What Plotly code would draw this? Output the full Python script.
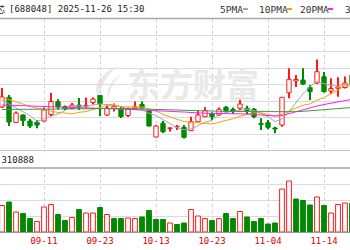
import plotly.graph_objects as go

# ---------------- data ----------------
dates = ["09-03","09-04","09-05","09-08","09-09","09-10","09-11","09-12","09-15","09-16",
         "09-17","09-18","09-19","09-22","09-23","09-24","09-25","09-26","09-29","09-30",
         "10-09","10-10","10-13","10-14","10-15","10-16","10-17","10-20","10-21","10-22",
         "10-23","10-24","10-27","10-28","10-29","10-30","10-31","11-03","11-04","11-05",
         "11-06","11-07","11-10","11-11","11-12","11-13","11-14","11-17","11-18","11-19","11-20"]

opens = [113.5,118.25,105.75,109.5,106.5,105.85,106.5,109.75,116.15,113.75,
         112.75,114.5,114.0,115.75,119.25,109.5,112.85,112.5,109.25,112.75,
         114.75,111.5,98.5,105.35,102.75,103.5,103.35,101.65,106.15,108.65,
         110.0,109.5,113.35,112.25,112.85,112.85,112.35,105.25,105.65,103.0,
         104.5,120.65,126.5,127.0,123.15,125.5,128.65,121.5,122.85,123.25,129.5]
closes = [118.5,106.0,110.5,106.75,104.0,104.5,112.0,116.25,113.5,112.75,
          114.5,113.75,114.25,117.5,115.0,113.0,113.85,108.75,112.25,113.5,
          113.0,104.0,104.0,101.15,103.1,103.75,98.35,106.15,109.5,111.65,
          108.65,112.35,111.65,111.5,115.0,111.65,108.65,104.75,103.35,102.5,
          118.35,127.35,127.25,125.0,121.25,131.15,121.15,122.75,123.5,125.5,124.5]
highs = [123.0,119.5,111.25,109.75,107.5,107.0,113.25,120.5,117.35,114.25,
         115.5,118.0,118.25,118.25,119.5,114.5,115.25,113.5,113.25,116.25,
         116.25,112.25,104.5,106.5,103.25,104.5,104.5,108.65,111.75,113.35,
         110.85,113.25,114.0,113.25,117.5,114.15,113.0,107.85,107.0,103.65,
         118.5,132.85,129.5,132.85,124.5,137.25,131.0,127.85,128.35,128.75,131.0]
lows = [113.0,104.0,105.5,104.0,103.0,102.85,106.25,109.0,112.25,112.0,
        112.5,112.0,112.85,114.75,109.0,109.0,111.25,108.0,108.5,112.0,
        112.75,103.75,98.25,100.5,101.25,102.0,97.75,101.5,106.0,108.5,
        107.0,109.0,110.5,110.0,112.0,110.0,107.85,102.0,102.35,100.35,
        103.65,117.85,123.5,124.5,117.0,125.0,120.75,120.0,118.65,122.75,123.0]

ma5 = [117.0,115.0,113.0,111.25,109.15,106.35,107.55,108.7,110.05,111.8,
       113.8,114.15,113.75,114.55,115.0,114.7,114.7,113.6,112.55,112.25,
       112.25,110.3,109.35,107.15,105.05,103.2,102.05,102.5,104.15,105.9,
       106.85,109.65,110.75,111.15,111.85,112.45,111.7,110.3,108.7,106.2,
       107.5,111.25,115.75,120.1,123.85,126.4,125.15,124.25,123.95,124.8,123.5]
ma10 = [118.25,117.25,116.25,115.0,113.75,113.0,112.25,111.5,110.75,110.5,
        110.05,110.85,111.2,112.3,113.4,114.25,114.45,113.7,113.55,113.65,
        113.5,112.5,111.5,109.85,108.65,107.7,106.15,105.9,105.65,105.45,
        105.0,105.85,106.6,107.65,108.85,109.65,110.65,110.55,109.9,109.0,
        109.95,111.45,113.05,114.4,115.0,116.95,118.2,120.0,122.0,124.3,124.95]
ma20 = [114.5,114.4,114.3,114.2,114.1,114.0,113.9,113.8,113.7,113.6,
        113.5,113.35,113.2,113.05,112.9,112.75,112.6,112.45,112.3,112.15,
        112.0,112.0,111.75,111.5,111.5,111.5,111.0,110.75,110.5,110.5,
        110.25,110.25,110.25,110.0,110.0,110.0,109.75,109.5,109.25,109.0,
        109.25,110.25,111.25,112.25,113.0,114.0,114.75,115.5,116.0,116.65,117.35]
ma30 = [112.25,112.3,112.35,112.4,112.45,112.5,112.55,112.6,112.65,112.7,
        112.75,112.75,112.8,112.8,112.8,112.8,112.8,112.75,112.7,112.65,
        112.6,112.5,112.4,112.25,112.1,112.0,111.85,111.7,111.6,111.5,
        111.4,111.35,111.3,111.25,111.25,111.25,111.2,111.1,111.0,110.9,
        110.9,111.0,111.15,111.35,111.55,111.85,112.1,112.4,112.7,113.0,113.25]

volumes = [265000,300000,200000,185000,135000,105000,250000,275000,175000,115000,
           145000,225000,190000,190000,245000,175000,135000,135000,140000,135000,
           150000,215000,125000,125000,90000,75000,90000,225000,160000,135000,
           115000,135000,185000,135000,205000,150000,105000,135000,80000,90000,
           430000,510000,330000,315000,270000,350000,265000,190000,275000,290000,285000]
vol_up = [1,0,1,0,0,1,1,1,0,0,
          1,0,1,1,0,1,0,0,1,1,
          0,0,0,0,1,0,0,1,1,1,
          0,1,0,0,1,0,0,0,0,0,
          1,1,0,0,0,1,0,1,1,1,0]

tick_labels = ["09-11","09-23","10-13","10-23","11-04","11-14"]
title_name = "长光华芯"
title_rest = "[688048] 2025-11-26 15:30"
legend_items = ["5PMA", "10PMA", "20PMA", "30PMA"]
vol_label = "成交量:310888"
watermark = "东方财富"

# ---------------- styling ----------------
W, H = 350, 250
RED = "#ff1a1a"
GREEN = "#008a00"
MA_COLORS = ["#a8a8a8", "#f5a300", "#ff1cff", "#3c9a4a"]
MONO = "DejaVu Sans Mono"
WM = "#e9e9e9"

def px(x):
    return x / W

def py(y):
    return 1 - y / H

xs = list(range(len(dates)))
up = [c >= o for o, c in zip(opens, closes)]

fig = go.Figure()

# wicks
fig.add_trace(go.Bar(
    x=xs, y=[h - l for h, l in zip(highs, lows)], base=lows, width=0.14,
    marker=dict(color=[RED if u else GREEN for u in up], line=dict(width=0)),
    xaxis="x", yaxis="y"))
# bodies
fig.add_trace(go.Bar(
    x=xs, y=[max(abs(c - o), 0.3) for o, c in zip(opens, closes)],
    base=[min(o, c) for o, c in zip(opens, closes)], width=0.62,
    marker=dict(color=["white" if u else GREEN for u in up],
                line=dict(color=[RED if u else GREEN for u in up], width=1)),
    xaxis="x", yaxis="y"))

for series, col in zip([ma5, ma10, ma20, ma30], MA_COLORS):
    fig.add_trace(go.Scatter(x=xs, y=series, mode="lines",
                             line=dict(color=col, width=1), xaxis="x", yaxis="y"))

# volume
fig.add_trace(go.Bar(
    x=xs, y=volumes, width=0.68,
    marker=dict(color=["white" if u else GREEN for u in vol_up],
                line=dict(color=[RED if u else GREEN for u in vol_up], width=1)),
    xaxis="x2", yaxis="y2"))

tickvals = [dates.index(t) for t in tick_labels]
xr = [-2 / 7, 50 - 2 / 7]

grid_common = dict(showgrid=True, zeroline=False, ticks="", showline=False)
fig.update_layout(
    width=W, height=H, margin=dict(l=0, r=0, t=0, b=0),
    paper_bgcolor="white", plot_bgcolor="white",
    barmode="overlay", showlegend=False, hovermode=False,
    xaxis=dict(domain=[0, 1], range=xr, anchor="y", tickmode="array", tickvals=tickvals,
               showticklabels=False, gridcolor="#cfcfcf", griddash="3px,3px", **grid_common),
    yaxis=dict(domain=[py(150.5), py(18.5)], range=[91.75, 157.75], tickmode="linear",
               tick0=100, dtick=8.25, showticklabels=False, gridcolor="#dcdcdc", **grid_common),
    xaxis2=dict(domain=[0, 1], range=xr, anchor="y2", matches="x", tickmode="array",
                tickvals=tickvals, ticktext=tick_labels, showticklabels=True,
                tickfont=dict(family=MONO, size=9, color="#e00000"),
                gridcolor="#cfcfcf", griddash="3px,3px", showgrid=True, zeroline=False,
                ticks="", showline=True, linecolor="#9a9a9a", linewidth=1),
    yaxis2=dict(domain=[py(232), py(168)], range=[0, 640000], tickmode="linear",
                tick0=0, dtick=160000, showticklabels=False, gridcolor="#dcdcdc", **grid_common),
)

# panel borders
for yy, col, wd in [(18.5, "#a8a8a8", 1.5), (150.5, "#c4c4c4", 1), (168, "#a0a0a0", 1.5)]:
    fig.add_shape(type="line", xref="paper", yref="paper", x0=0, x1=1, y0=py(yy), y1=py(yy),
                  line=dict(color=col, width=wd), layer="above")

# watermark
fig.add_annotation(text=watermark, xref="paper", yref="paper", x=px(193), y=py(83),
                   xanchor="center", yanchor="middle", showarrow=False,
                   font=dict(family="Noto Sans CJK SC", size=33, color=WM, weight=700))
logo = "M {} {} Q {} {} {} {} Q {} {} {} {} Z".format(
    px(117), py(66), px(88), py(80), px(99), py(100),
    px(99), py(84), px(117), py(66))
fig.add_shape(type="path", xref="paper", yref="paper", path=logo,
              fillcolor=WM, line=dict(width=0), layer="below")
logo2 = "M {} {} Q {} {} {} {} Q {} {} {} {} Z".format(
    px(122), py(73), px(103), py(86), px(109), py(99),
    px(108), py(88), px(122), py(73))
fig.add_shape(type="path", xref="paper", yref="paper", path=logo2,
              fillcolor=WM, line=dict(width=0), layer="below")

# header
fig.add_annotation(text=title_name, xref="paper", yref="paper", x=px(7), y=py(9),
                   xanchor="right", yanchor="middle", showarrow=False,
                   font=dict(family="Noto Sans CJK SC", size=9, color="#222"))
fig.add_annotation(text=title_rest, xref="paper", yref="paper", x=px(7), y=py(9),
                   xanchor="left", yanchor="middle", showarrow=False,
                   font=dict(family=MONO, size=9, color="#222"))

# legend text + swatches
leg_x = [218, 257, 298, 343]
sw_x = [243, 287, 328, 372]
for name, lx, sx, col in zip(legend_items, leg_x, sw_x, MA_COLORS):
    fig.add_annotation(text=name, xref="paper", yref="paper", x=px(lx), y=py(9),
                       xanchor="left", yanchor="middle", showarrow=False,
                       font=dict(family=MONO, size=9.5, color="#333"))
    fig.add_shape(type="line", xref="paper", yref="paper", x0=px(sx), x1=px(sx + 5),
                  y0=py(9), y1=py(9), line=dict(color=col, width=2))

# volume label
fig.add_annotation(text=vol_label, xref="paper", yref="paper", x=px(36), y=py(159.5),
                   xanchor="right", yanchor="middle", showarrow=False,
                   font=dict(family=MONO, size=9, color="#222"))

fig.write_html("out.html")
